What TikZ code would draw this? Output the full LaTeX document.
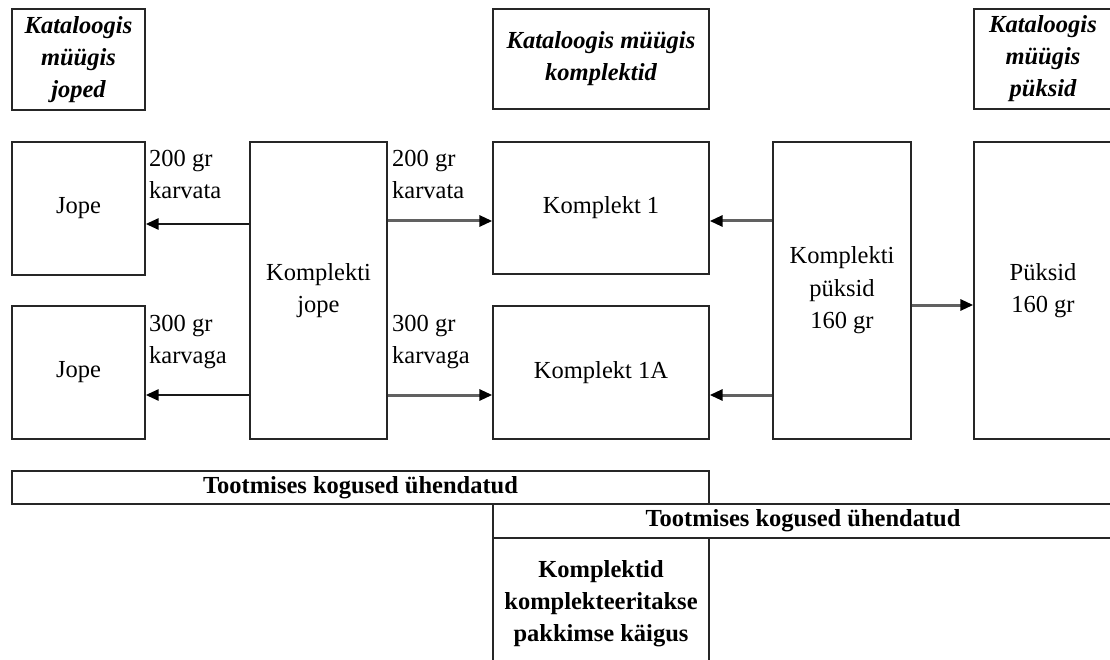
\documentclass[tikz,border=0pt]{standalone}
\usepackage{fontspec}
\setmainfont{Liberation Serif}
\usetikzlibrary{arrows.meta}
\begin{document}
\begin{tikzpicture}[x=1pt,y=1pt,
  every node/.style={font=\fontsize{24.5}{32.5}\selectfont},
  box/.style={draw=black!85, line width=1.4pt, inner sep=0pt, align=center},
  head/.style={box, font=\fontsize{24.5}{32}\selectfont\bfseries\itshape},
  bar/.style={box, font=\fontsize{24.5}{32}\selectfont\bfseries},
  lbl/.style={align=left, anchor=north west, inner sep=0pt},
  darrow/.style={line width=2.8pt, draw=black!90, -{Triangle[length=13pt,width=11pt,color=black]}},
  garrow/.style={line width=3pt, draw=black!62, -{Triangle[length=13pt,width=11pt,color=black]}}
]
\useasboundingbox (0,0) rectangle (1110,-660);
\clip (0,0) rectangle (1110,-660);

% header boxes
\node[head, minimum width=133pt, minimum height=101pt] (h1) at (78.5,-59.5)
  {Kataloogis\\müügis\\joped};
\node[head, minimum width=216pt, minimum height=100pt] (h2) at (601,-59)
  {Kataloogis müügis\\komplektid};
\node[head, minimum width=138pt, minimum height=100pt] (h3) at (1043,-59)
  {Kataloogis\\müügis\\püksid};

% main boxes
\node[box, minimum width=133pt, minimum height=133pt] (j1) at (78.5,-208.5) {Jope};
\node[box, minimum width=133pt, minimum height=133pt] (j2) at (78.5,-372.5) {Jope};
\node[box, minimum width=137pt, minimum height=297pt] (kj) at (318.5,-290.5) {Komplekti\\jope};
\node[box, minimum width=216pt, minimum height=132pt] (k1) at (601,-208) {Komplekt 1};
\node[box, minimum width=216pt, minimum height=133pt] (k1a) at (601,-372.5) {Komplekt 1A};
\node[box, minimum width=138pt, minimum height=297pt] (kp) at (842,-290.5) {Komplekti\\püksid\\160 gr};
\node[box, minimum width=138pt, minimum height=297pt] (p) at (1043,-290.5) {Püksid\\160 gr};

% bottom bars
\node[bar, minimum width=697pt, minimum height=33pt] (b1) at (360.5,-487.5) {Tootmises kogused ühendatud};
\node[bar, minimum width=620pt, minimum height=34pt] (b2) at (803,-521) {Tootmises kogused ühendatud};
\node[bar, minimum width=216pt, minimum height=132pt] (bk) at (601,-604) {Komplektid\\komplekteeritakse\\pakkimse käigus};

% connectors
\draw[darrow] (kj.west |- 0,-224) -- (j1.east |- 0,-224);
\draw[darrow] (kj.west |- 0,-395) -- (j2.east |- 0,-395);
\draw[garrow] (kj.east |- 0,-221) -- (k1.west |- 0,-221);
\draw[garrow] (kj.east |- 0,-395) -- (k1a.west |- 0,-395);
\draw[garrow] (kp.west |- 0,-221) -- (k1.east |- 0,-221);
\draw[garrow] (kp.west |- 0,-395) -- (k1a.east |- 0,-395);
\draw[garrow] (kp.east |- 0,-305) -- (p.west |- 0,-305);

% arrow labels
\node[lbl] (l1) at (149,-150) {200 gr\\karvata};
\node[lbl] (l2) at (149,-315) {300 gr\\karvaga};
\node[lbl] (l3) at (392,-150) {200 gr\\karvata};
\node[lbl] (l4) at (392,-315) {300 gr\\karvaga};
\end{tikzpicture}
\end{document}
